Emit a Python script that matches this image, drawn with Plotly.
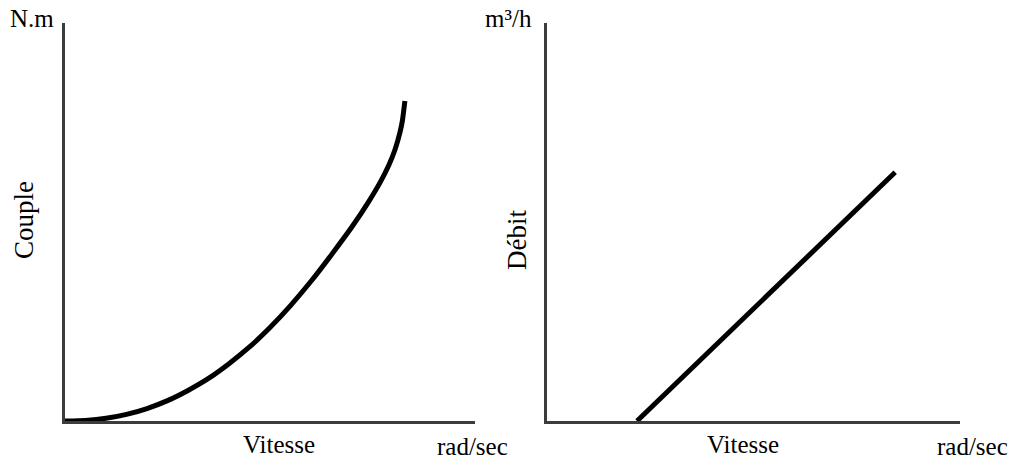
import plotly.graph_objects as go
from plotly.subplots import make_subplots

# Couple (N.m) en fonction de la vitesse (rad/sec) - charge quadratique
couple_vitesse = [0, 5, 10, 15, 20, 25, 30, 35, 40, 45, 50, 55, 60, 65, 70, 74, 77, 79,
                  80.5, 81.7, 82.3, 82.9]
couple_values = [0, 0.15, 0.68, 1.66, 3.13, 5.12, 7.68, 10.7, 14.4, 18.6, 23.5, 29.0, 35.1,
                 41.8, 48.8, 55.0, 60.2, 64.3, 68.2, 72.5, 75.5, 80.4]

# Débit (m3/h) en fonction de la vitesse (rad/sec) - relation linéaire
debit_vitesse = [21.8, 47.8, 84.3]
debit_values = [0, 26.0, 62.5]

W, H = 1013, 463
FONT = "Liberation Serif, Times New Roman, serif"

fig = make_subplots(rows=1, cols=2)

fig.add_trace(go.Scatter(x=couple_vitesse, y=couple_values, mode="lines",
                         line=dict(color="black", width=5, shape="spline", smoothing=0.5),
                         showlegend=False, hoverinfo="skip"), row=1, col=1)
fig.add_trace(go.Scatter(x=debit_vitesse, y=debit_values, mode="lines",
                         line=dict(color="black", width=5),
                         showlegend=False, hoverinfo="skip"), row=1, col=2)

ydom = [1 - 421 / H, 1 - 23 / H]
axis_style = dict(range=[0, 100], showgrid=False, zeroline=False, showticklabels=False,
                  ticks="", showline=True, linecolor="#3c3c3c", linewidth=2.5)
fig.update_layout(
    width=W, height=H, margin=dict(l=0, r=0, t=0, b=0),
    paper_bgcolor="white", plot_bgcolor="white",
    xaxis=dict(domain=[65 / W, 475 / W], **axis_style),
    yaxis=dict(domain=ydom, **axis_style),
    xaxis2=dict(domain=[547 / W, 960 / W], **axis_style),
    yaxis2=dict(domain=ydom, **axis_style),
)


def label(text, px, py, size=25, angle=0):
    fig.add_annotation(text=text, x=px / W, y=1 - py / H, xref="paper", yref="paper",
                       showarrow=False, textangle=angle, xanchor="center", yanchor="middle",
                       font=dict(family=FONT, size=size, color="black"))


label("N.m", 32, 18)
label("Couple", 24, 220, size=27, angle=-90)
label("Vitesse", 279, 444)
label("rad/sec", 472, 446)
label("m³/h", 508, 18)
label("Débit", 517, 240, size=27, angle=-90)
label("Vitesse", 743, 444)
label("rad/sec", 972, 446)

fig.write_html("out.html")
